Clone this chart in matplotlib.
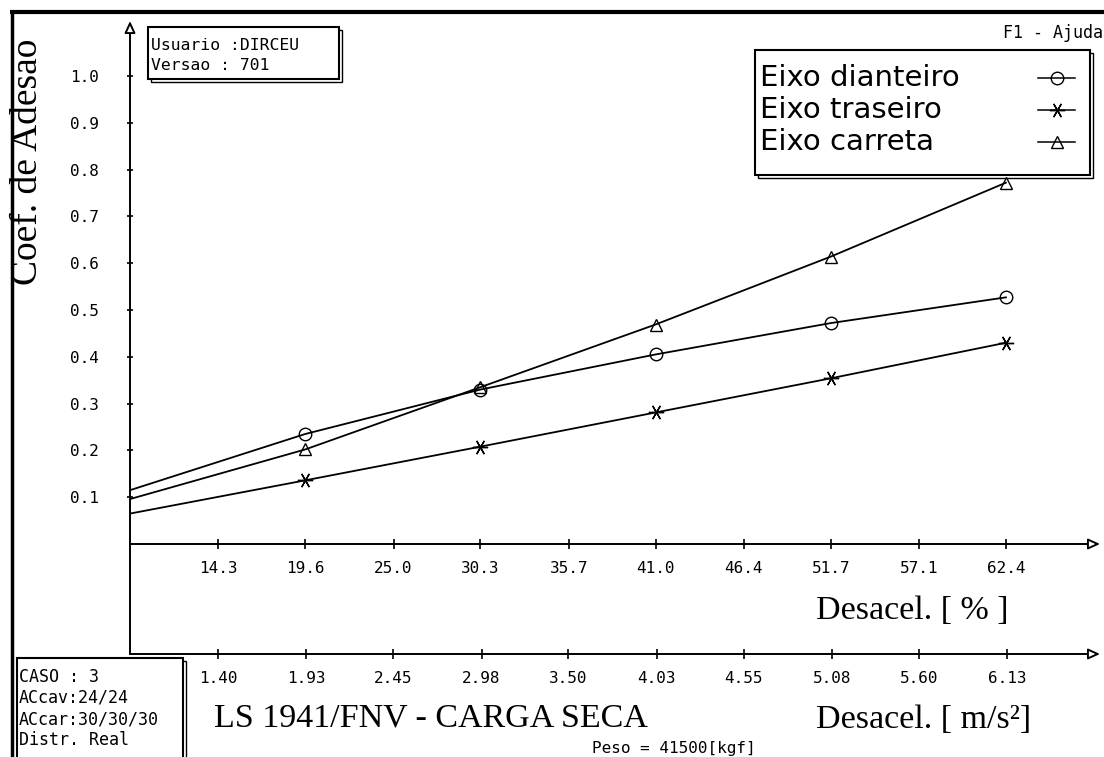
import matplotlib
matplotlib.use("Agg")
import matplotlib.pyplot as plt
from matplotlib.patches import Rectangle
from matplotlib.lines import Line2D
from matplotlib.ticker import FormatStrFormatter

# Desaceleracao em % de g; o primeiro valor e a origem do eixo
desacel_pct = [8.9, 19.6, 30.3, 41.0, 51.7, 62.4]

# Coeficiente de adesao exigido por eixo
coef_dianteiro = [0.115, 0.235, 0.330, 0.405, 0.472, 0.527]
coef_traseiro = [0.065, 0.136, 0.208, 0.281, 0.354, 0.430]
coef_carreta = [0.096, 0.202, 0.335, 0.469, 0.614, 0.772]

pct_ticks = [14.3, 19.6, 25.0, 30.3, 35.7, 41.0, 46.4, 51.7, 57.1, 62.4]
acc_ticks = [1.40, 1.93, 2.45, 2.98, 3.50, 4.03, 4.55, 5.08, 5.60, 6.13]
coef_ticks = [0.1, 0.2, 0.3, 0.4, 0.5, 0.6, 0.7, 0.8, 0.9, 1.0]

series_names = ["Eixo dianteiro", "Eixo traseiro", "Eixo carreta"]
series_markers = ["o", (6, 2, 30), "^"]
marker_sizes = [9, 11, 8.5]

info_lines = ["Usuario :DIRCEU", "Versao : 701"]
caso_lines = ["CASO : 3", "ACcav:24/24", "ACcar:30/30/30", "Distr. Real"]

G = 9.81
W, H = 1104, 757
MONO = "DejaVu Sans Mono"
SERIF = "Liberation Serif"

plt.rcParams["font.family"] = MONO

fig = plt.figure(figsize=(W / 100, H / 100), dpi=100)

# camada de fundo em pixels: molduras, caixas e textos
deco = fig.add_axes([0, 0, 1, 1])
deco.set_xlim(0, W)
deco.set_ylim(H, 0)
deco.axis("off")

deco.plot([10, W], [12, 12], color="black", lw=3, solid_capstyle="butt", clip_on=False)
deco.plot([11.5, 11.5], [11, H], color="black", lw=2.5, solid_capstyle="butt", clip_on=False)


def caixa(x0, y0, x1, y1):
    deco.add_patch(Rectangle((x0 + 3, y0 + 3), x1 - x0, y1 - y0, fc="white", ec="black", lw=1.0))
    deco.add_patch(Rectangle((x0, y0), x1 - x0, y1 - y0, fc="white", ec="black", lw=1.5))


caixa(148, 27, 339, 79)
for i, linha in enumerate(info_lines):
    deco.text(151, 46 + 19 * i, linha, fontsize=11.8, va="center", ha="left")

caixa(17, 658, 183, 760)
for i, linha in enumerate(caso_lines):
    deco.text(19, 677 + 21 * i, linha, fontsize=12, va="center", ha="left")

deco.text(1003, 33, "F1 - Ajuda", fontsize=12, va="center", ha="left")

# legenda
caixa(755, 50, 1090, 175)
for i, (nome, mk, ms) in enumerate(zip(series_names, series_markers, marker_sizes)):
    y = 78 + 32 * i
    deco.text(760, y, nome, family="DejaVu Sans", fontsize=21, va="center", ha="left")
    deco.add_line(Line2D([1038, 1075], [y, y], color="black", lw=1.1))
    deco.plot([1056.5], [y], linestyle="none", marker=mk, ms=ms, mfc="none",
              mec="black", mew=1.0)

deco.text(28, 162, "Coef. de Adesao", family=SERIF, fontsize=27, rotation=90,
          ha="center", va="center")
deco.text(816, 611, "Desacel. [ % ]", family=SERIF, fontsize=24.5, ha="left", va="center")
deco.text(816, 720, "Desacel. [ m/s²]", family=SERIF, fontsize=24.5, ha="left", va="center")
deco.text(214, 718, "LS 1941/FNV - CARGA SECA", family=SERIF, fontsize=24.5,
          ha="left", va="center")
deco.text(592, 749, "Peso = 41500[kgf]", fontsize=11.5, ha="left", va="center")

# grafico principal
ax = fig.add_axes([130 / W, 1 - 544 / H, 970 / W, 523 / H])
ax.patch.set_visible(False)
for sp in ax.spines.values():
    sp.set_visible(False)

ax.set_xlim(8.9, 68.15)
ax.set_ylim(0, 1.1175)

for coef, mk, ms in zip([coef_dianteiro, coef_traseiro, coef_carreta], series_markers, marker_sizes):
    ax.plot(desacel_pct, coef, color="black", lw=1.3, marker=mk, ms=ms,
            mfc="none", mec="black", mew=1.0, markevery=slice(1, None))

ax.set_xticks(pct_ticks)
ax.xaxis.set_major_formatter(FormatStrFormatter("%.1f"))
ax.set_yticks(coef_ticks)
ax.yaxis.set_major_formatter(FormatStrFormatter("%.1f"))
ax.tick_params(axis="x", direction="inout", length=7, width=1.2, pad=9, labelsize=11.5)
ax.tick_params(axis="y", direction="inout", length=5, width=1.2, pad=20, labelsize=11.5)

loc2 = -110 / 523
sec = ax.secondary_xaxis(loc2, functions=(lambda p: p * G / 100, lambda a: a * 100 / G))
sec.set_xticks(acc_ticks)
sec.xaxis.set_major_formatter(FormatStrFormatter("%.2f"))
sec.spines["bottom"].set_visible(False)
sec.tick_params(direction="inout", length=7, width=1.2, pad=9, labelsize=11.5)

# eixos com seta vazada
seta = dict(arrowstyle="-|>,head_length=0.7,head_width=0.32", fc="white", ec="black",
            lw=1.4, shrinkA=0, shrinkB=0)
for xy, xytext in [((1, 0), (0, 0)), ((1, loc2), (0, loc2)), ((0, 1), (0, loc2))]:
    ax.annotate("", xy=xy, xytext=xytext, xycoords="axes fraction",
                textcoords="axes fraction", arrowprops=seta, annotation_clip=False)

fig.savefig("out.png", dpi=100)
